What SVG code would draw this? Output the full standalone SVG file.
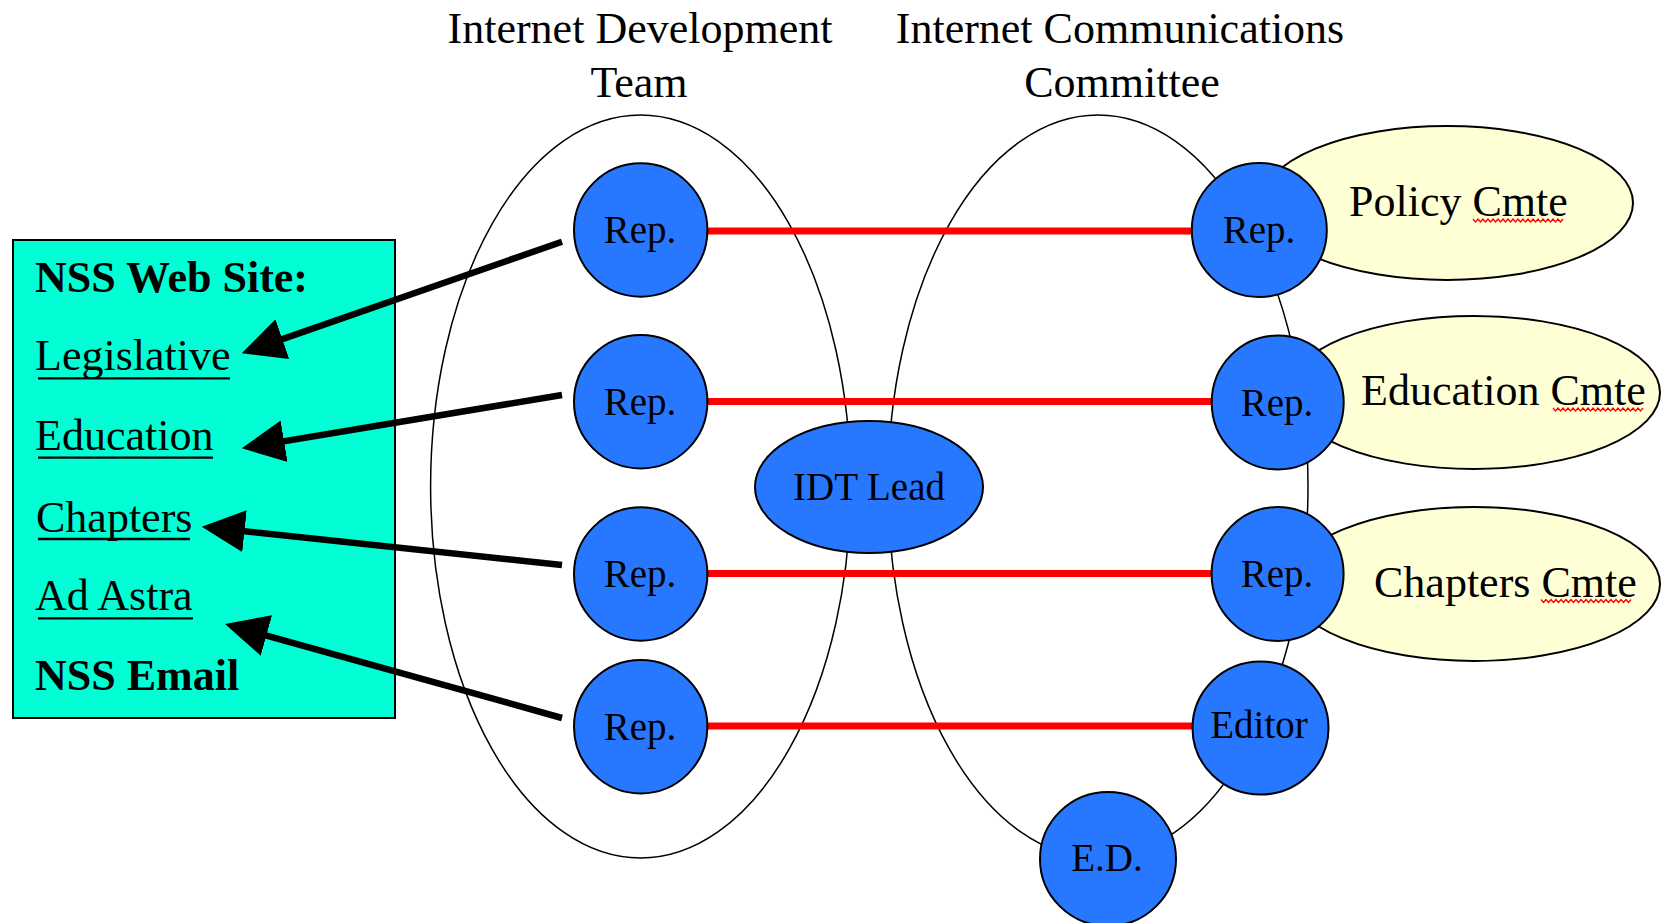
<svg xmlns="http://www.w3.org/2000/svg" xmlns:xlink="http://www.w3.org/1999/xlink" width="1661" height="923" viewBox="0 0 1661 923">
<style>
  .t { font-family: "Liberation Serif", "Times New Roman", serif; fill: #000; }
  .big { font-size: 44px; }
  .bold { font-weight: bold; }
  .lbl { font-size: 39px; text-anchor: middle; }
  .grp { fill: none; stroke: #000; stroke-width: 1.5; }
  .node { fill: #2878ff; stroke: #000; stroke-width: 2; }
  .cmte { fill: #ffffd6; stroke: #000; stroke-width: 2; }
  .red { stroke: #ff0000; stroke-width: 7; fill: none; }
  .arr { stroke: #000; stroke-width: 6.5; fill: none; marker-end: url(#ah); }
  .ul { stroke: #000; stroke-width: 2.3; }
  .sq { stroke: #ff0000; stroke-width: 1.3; fill: none; }
</style>
<defs>
  <marker id="ah" markerUnits="userSpaceOnUse" markerWidth="43" markerHeight="42" viewBox="0 0 43 42" refX="35" refY="21" orient="auto">
    <path d="M0,0 L43,21 L0,42 z" fill="#000"/>
  </marker>
  <path id="sq" d="M0,0 l2.5,3 l2.5,-3 l2.5,3 l2.5,-3 l2.5,3 l2.5,-3 l2.5,3 l2.5,-3 l2.5,3 l2.5,-3 l2.5,3 l2.5,-3 l2.5,3 l2.5,-3 l2.5,3 l2.5,-3 l2.5,3 l2.5,-3 l2.5,3 l2.5,-3 l2.5,3 l2.5,-3 l2.5,3 l2.5,-3 l2.5,3 l2.5,-3 l2.5,3 l2.5,-3 l2.5,3 l2.5,-3 l2.5,3 l2.5,-3 l2.5,3 l2.5,-3 l2.5,3 l2.5,-3"/>
</defs>
<rect width="1661" height="923" fill="#fff"/>

<g id="titles">
  <text class="t big" x="640" y="43" text-anchor="middle">Internet Development</text>
  <text class="t big" x="639" y="97" text-anchor="middle">Team</text>
  <text class="t big" x="1120" y="43" text-anchor="middle">Internet Communications</text>
  <text class="t big" x="1122" y="97" text-anchor="middle">Committee</text>
</g>

<g id="idt-group">
  <ellipse class="grp" cx="640.6" cy="486.5" rx="210" ry="371.5"/>
</g>
<g id="icc-group">
  <ellipse class="grp" cx="1098" cy="486.5" rx="210" ry="371.5"/>
</g>

<g id="nss-box">
  <rect x="13" y="240" width="382" height="478" fill="#00ffd4" stroke="#000" stroke-width="2"/>
  <text class="t big bold" x="35" y="291.5">NSS Web Site:</text>
  <text class="t big" x="35" y="370">Legislative</text>
  <line class="ul" x1="38" y1="378.3" x2="230" y2="378.3"/>
  <text class="t big" x="35" y="450">Education</text>
  <line class="ul" x1="38" y1="457.7" x2="213" y2="457.7"/>
  <text class="t big" x="36" y="531.5">Chapters</text>
  <line class="ul" x1="38" y1="539" x2="190" y2="539"/>
  <text class="t big" x="35" y="610">Ad Astra</text>
  <line class="ul" x1="38" y1="618.3" x2="193" y2="618.3"/>
  <text class="t big bold" x="35" y="690">NSS Email</text>
</g>

<g id="connectors">
  <line class="red" x1="707" y1="231" x2="1193" y2="231"/>
  <line class="red" x1="707" y1="401.5" x2="1212" y2="401.5"/>
  <line class="red" x1="707" y1="573.5" x2="1212" y2="573.5"/>
  <line class="red" x1="707" y1="726" x2="1194" y2="726"/>
  <line class="arr" x1="562" y1="241.7" x2="249.3" y2="350.7"/>
  <line class="arr" x1="562" y1="395" x2="249.6" y2="447"/>
  <line class="arr" x1="562" y1="565" x2="209.7" y2="527.5"/>
  <line class="arr" x1="562" y1="718" x2="232.7" y2="626.1"/>
</g>

<g id="policy-cmte">
  <ellipse class="cmte" cx="1447" cy="203" rx="186" ry="77"/>
  <text class="t big" x="1349" y="216">Policy Cmte</text>
  <use href="#sq" xlink:href="#sq" class="sq" x="1473" y="219"/>
</g>
<g id="education-cmte">
  <ellipse class="cmte" cx="1474" cy="392.5" rx="186" ry="76.5"/>
  <text class="t big" x="1361" y="405">Education Cmte</text>
  <use href="#sq" xlink:href="#sq" class="sq" x="1553" y="408"/>
</g>
<g id="chapters-cmte">
  <ellipse class="cmte" cx="1474" cy="584" rx="186" ry="77"/>
  <text class="t big" x="1374" y="596.5">Chapters Cmte</text>
  <use href="#sq" xlink:href="#sq" class="sq" x="1541" y="599.5"/>
</g>

<g id="idt-rep1"><ellipse class="node" cx="640.7" cy="230" rx="66.7" ry="66.7"/><text class="t lbl" x="640" y="243">Rep.</text></g>
<g id="idt-rep2"><ellipse class="node" cx="640.7" cy="401.7" rx="66.7" ry="66.7"/><text class="t lbl" x="640" y="414.5">Rep.</text></g>
<g id="idt-rep3"><ellipse class="node" cx="640.7" cy="574" rx="66.7" ry="66.7"/><text class="t lbl" x="640" y="587">Rep.</text></g>
<g id="idt-rep4"><ellipse class="node" cx="640.7" cy="726.7" rx="66.7" ry="66.7"/><text class="t lbl" x="640" y="739.5">Rep.</text></g>

<g id="idt-lead"><ellipse class="node" cx="869" cy="487" rx="114" ry="66"/><text class="t lbl" x="869" y="500">IDT Lead</text></g>

<g id="icc-rep1"><ellipse class="node" cx="1259.3" cy="230" rx="67.5" ry="67"/><text class="t lbl" x="1259" y="243">Rep.</text></g>
<g id="icc-rep2"><ellipse class="node" cx="1277.7" cy="402.5" rx="66" ry="67"/><text class="t lbl" x="1277" y="415.5">Rep.</text></g>
<g id="icc-rep3"><ellipse class="node" cx="1277.6" cy="574" rx="66" ry="67"/><text class="t lbl" x="1277" y="587">Rep.</text></g>
<g id="icc-editor"><ellipse class="node" cx="1260.5" cy="728" rx="68" ry="66.5"/><text class="t lbl" x="1259" y="738">Editor</text></g>
<g id="icc-ed"><ellipse class="node" cx="1108" cy="859" rx="68" ry="67"/><text class="t lbl" x="1107" y="871">E.D.</text></g>
</svg>
